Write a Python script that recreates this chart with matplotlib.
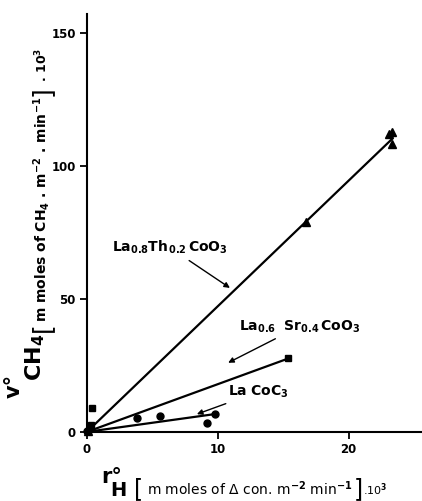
import matplotlib.pyplot as plt
from matplotlib.transforms import IdentityTransform

plt.rcParams['font.family'] = 'DejaVu Sans'
plt.rcParams['mathtext.default'] = 'bf'

# LaCoO3 (circles)
laco_x = [0.0, 0.2, 3.8, 5.6, 9.2, 9.8]
laco_y = [0.3, 1.0, 5.3, 5.8, 3.4, 6.7]
laco_fit_x = [0.0, 9.8]
laco_fit_y = [0.0, 6.7]

# La0.6Sr0.4CoO3 (squares)
lasr_x = [0.2, 0.3, 0.4, 15.4]
lasr_y = [1.5, 2.5, 8.8, 27.6]
lasr_fit_x = [0.0, 15.4]
lasr_fit_y = [0.0, 27.6]

# La0.8Th0.2CoO3 (triangles)
lath_x = [0.1, 0.3, 16.7, 23.1, 23.3, 23.3]
lath_y = [0.5, 2.0, 79.0, 112.0, 112.5, 108.0]
lath_fit_x = [0.0, 23.3]
lath_fit_y = [0.0, 110.0]

xticks = [0, 10, 20]
yticks = [0, 50, 100, 150]

W, H = 422, 501
fig = plt.figure(figsize=(W / 100, H / 100), dpi=100)
ax = fig.add_axes([0.206, 0.138, 0.794, 0.834])

ax.plot(lath_fit_x, lath_fit_y, color='black', lw=1.6)
ax.plot(lasr_fit_x, lasr_fit_y, color='black', lw=1.6)
ax.plot(laco_fit_x, laco_fit_y, color='black', lw=1.6)
ax.plot(lath_x, lath_y, '^', color='black', ms=6, clip_on=False)
ax.plot(lasr_x, lasr_y, 's', color='black', ms=5, clip_on=False)
ax.plot(laco_x, laco_y, 'o', color='black', ms=5, clip_on=False)

ax.set_xlim(0, 25.6)
ax.set_ylim(0, 157)
ax.set_xticks(xticks)
ax.set_yticks(yticks)
ax.spines['top'].set_visible(False)
ax.spines['right'].set_visible(False)
ax.spines['left'].set_linewidth(1.5)
ax.spines['bottom'].set_linewidth(1.5)
ax.tick_params(direction='out', length=5, width=1.3, labelsize=8.5, pad=3)
for lab in ax.get_xticklabels() + ax.get_yticklabels():
    lab.set_fontweight('bold')

arrow = dict(arrowstyle='-|>', color='black', lw=1.0, mutation_scale=8)
ax.annotate(r'$La_{0.8}Th_{\,0.2}\,CoO_3$', xy=(11.1, 53.5), xytext=(1.9, 66),
            fontsize=10, ha='left', va='bottom', arrowprops=arrow)
ax.annotate(r'$La_{0.6}\ \ Sr_{0.4}\,CoO_3$', xy=(10.6, 25.5), xytext=(11.6, 36.5),
            fontsize=10, ha='left', va='bottom', arrowprops=arrow)
ax.annotate(r'$La\ CoC_3$', xy=(8.2, 6.3), xytext=(10.8, 12),
            fontsize=10, ha='left', va='bottom', arrowprops=arrow)


# axis labels built from pieces laid one after another
# piece: text, size, baseline shift (px, down/right), gap before (px), weight
def chain(pieces, along, base, rot):
    r = fig.canvas.get_renderer()
    for s, size, shift, gap, weight in pieces:
        if rot == 0:
            t = fig.text(along + gap, H - (base + shift), s, fontsize=size,
                         fontweight=weight, ha='left', va='baseline',
                         rotation_mode='anchor', transform=IdentityTransform())
            along = t.get_window_extent(r).x1
        else:
            t = fig.text(base + shift, H - (along - gap), s, fontsize=size,
                         fontweight=weight, ha='left', va='baseline', rotation=90,
                         rotation_mode='anchor', transform=IdentityTransform())
            along = H - t.get_window_extent(r).y1


chain([('v°', 15, 0, 0, 'bold'),
       (r'$\mathregular{CH_4}$', 16, 21, -7, 'bold'),
       ('[', 18, 29, 2, 'normal'),
       (r'm moles of CH$_4$ . m$^{-2}$ . min$^{-1}$', 10, 27, 0, 'bold'),
       (']', 18, 29, 1, 'normal'),
       (' . 10$^3$', 9, 27, 0, 'bold')],
      along=398, base=20, rot=90)

chain([('r°', 15, 0, 0, 'bold'),
       ('H', 14, 13, -12, 'bold'),
       ('[', 17, 13, 8, 'normal'),
       (r'm moles of $\mathregular{\Delta}$ con. m$^{-2}$ min$^{-1}$', 10, 12, 4, 'normal'),
       (']', 17, 13, 1, 'normal'),
       ('.10$^3$', 8, 12, 0, 'normal')],
      along=101, base=483, rot=0)

fig.savefig('out.png', dpi=100)
